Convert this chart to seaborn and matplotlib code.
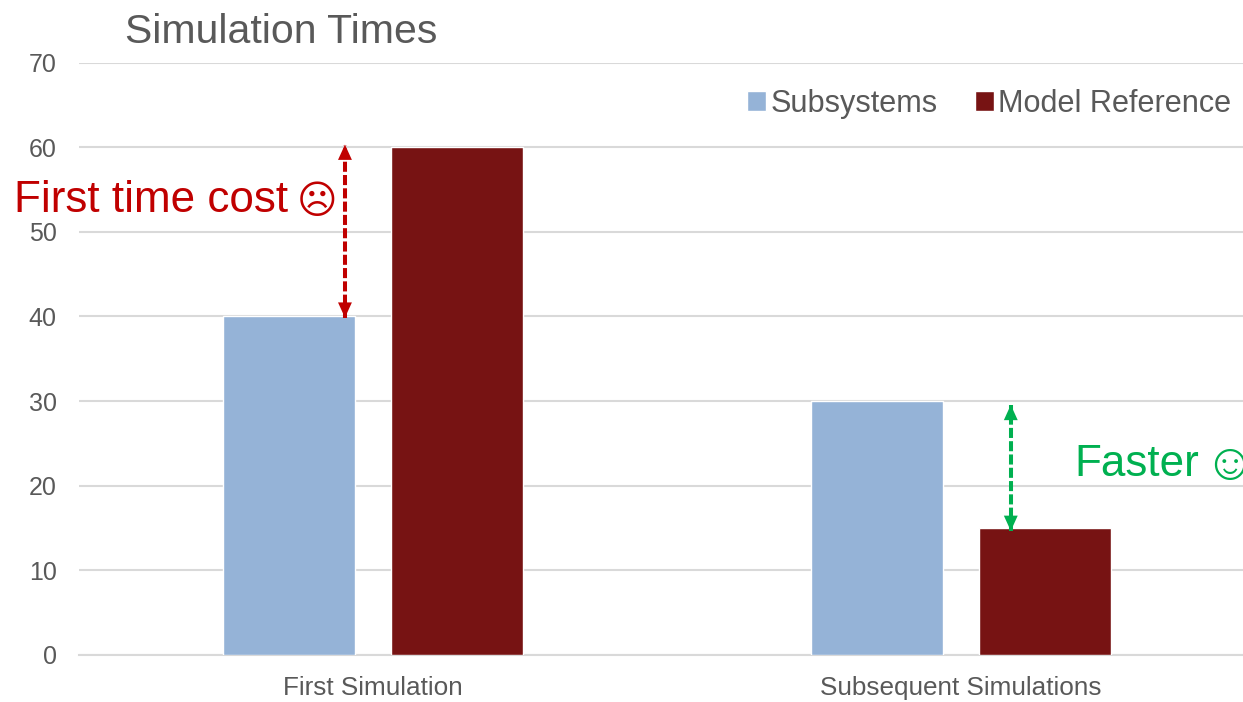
import matplotlib
matplotlib.use("Agg")
import matplotlib.pyplot as plt
import pandas as pd
import seaborn as sns

# Simulation times per scenario and modelling approach
scenarios = ["First Simulation", "Subsequent Simulations"]
approaches = ["Subsystems", "Model Reference"]
subsystem_times = [40, 30]
model_reference_times = [60, 15]
y_ticks = [0, 10, 20, 30, 40, 50, 60, 70]

BLUE = "#95B3D7"
MAROON = "#771313"
GREY = "#595959"
GRID = "#D9D9D9"
RED = "#C00000"
GREEN = "#00B050"

sns.set_theme(style="white")
plt.rcParams["font.family"] = ["Liberation Sans", "DejaVu Sans"]

df = pd.DataFrame({
    "scenario": scenarios * 2,
    "approach": [approaches[0]] * 2 + [approaches[1]] * 2,
    "time": subsystem_times + model_reference_times,
})

W, H = 1243, 702
fig = plt.figure(figsize=(W / 100, H / 100), dpi=100)
ax = fig.add_axes([79 / W, 1 - 655 / H, (W - 79) / W, (655 - 62.5) / H])

sns.barplot(data=df, x="scenario", y="time", hue="approach", order=scenarios,
            hue_order=approaches, palette=[BLUE, MAROON], width=0.571, gap=0.214,
            saturation=1, errorbar=None, ax=ax, zorder=3)

ax.set_xlim(-0.5, 1.48)
ax.set_ylim(0, 70)
ax.set_yticks(y_ticks)
ax.set_xlabel("")
ax.set_ylabel("")
ax.grid(axis="y", color=GRID, linewidth=1.5, zorder=0)
ax.set_axisbelow(True)
sns.despine(ax=ax, left=True, right=True, top=True)
ax.spines["bottom"].set_color(GRID)
ax.spines["bottom"].set_linewidth(1.5)
ax.tick_params(axis="y", labelsize=18, labelcolor=GREY, length=0, pad=16)
ax.tick_params(axis="x", labelsize=18.8, labelcolor=GREY, length=0, pad=15)

fig.text(125 / W, 1 - 32 / H, "Simulation Times", fontsize=29.5, color=GREY,
         ha="left", va="center")

ax.legend(loc="upper right", bbox_to_anchor=(0.99, 0.956), ncol=2, frameon=False,
          fontsize=22.1, labelcolor=GREY, handlelength=0.62, handleheight=0.62,
          handletextpad=0.15, columnspacing=1.2, borderaxespad=0, borderpad=0)


def gap_arrow(x, y_low, y_high, color):
    """Dashed vertical span with a solid arrowhead at each end."""
    ax.plot([x, x], [y_low, y_high], color=color, lw=2.9,
            linestyle=(0, (2.5, 0.8)), zorder=5)
    for tip, offset in ((y_high, -11), (y_low, 11)):
        ax.annotate("", xy=(x, tip), xytext=(0, offset), textcoords="offset points",
                    xycoords="data", zorder=6,
                    arrowprops=dict(arrowstyle="-|>,head_length=0.55,head_width=0.25",
                                    color=color, lw=0, mutation_scale=20,
                                    shrinkA=0, shrinkB=0))


gap_arrow(-0.0476, 39.85, 60.3, RED)
gap_arrow(1.085, 14.66, 29.55, GREEN)

# Captions, with the faces set separately so they can be sized on their own
fig.text(14 / W, 1 - 201 / H, "First time cost", color=RED, fontsize=31.7,
         ha="left", va="center")
fig.text(317 / W, 1 - 203 / H, "\u2639", color=RED, fontsize=28,
         ha="center", va="center")
fig.text(1074 / W, 1 - 465 / H, "Faster", color=GREEN, fontsize=31.7,
         ha="left", va="center")
fig.text(1229 / W, 1 - 466 / H, "\u263A", color=GREEN, fontsize=37,
         ha="center", va="center")

fig.savefig("out.png", dpi=100)
